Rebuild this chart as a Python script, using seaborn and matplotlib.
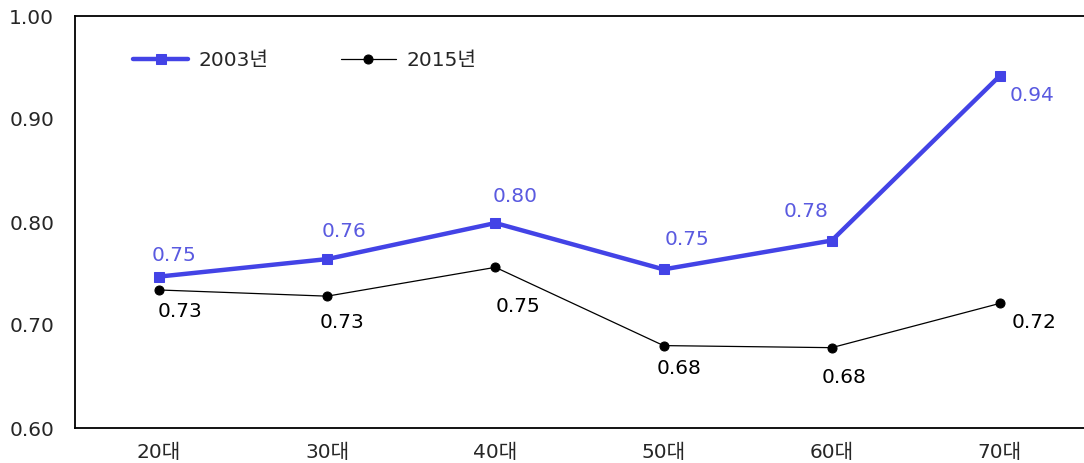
import numpy as np
import pandas as pd
import matplotlib
matplotlib.use("Agg")
import matplotlib.pyplot as plt
import seaborn as sns
from matplotlib.ticker import FixedLocator, FormatStrFormatter

ages = ["20대", "30대", "40대", "50대", "60대", "70대"]
val_2003 = [0.747, 0.764, 0.799, 0.754, 0.782, 0.942]
val_2015 = [0.734, 0.728, 0.756, 0.680, 0.678, 0.721]
lab_2003 = ["0.75", "0.76", "0.80", "0.75", "0.78", "0.94"]
lab_2015 = ["0.73", "0.73", "0.75", "0.68", "0.68", "0.72"]

sns.set_theme(style="white")
plt.rcParams["font.family"] = ["DejaVu Sans", "Noto Sans CJK KR"]
plt.rcParams["axes.unicode_minus"] = False

blue = "#4343E6"
blue_txt = "#5A5AE0"
fs = 14.5

df = pd.DataFrame({"x": np.arange(len(ages)), "y2003": val_2003, "y2015": val_2015})

fig = plt.figure(figsize=(10.84, 4.63), dpi=100)
ax = fig.add_axes([75 / 1084, 35 / 463, 1 - 75 / 1084, (428 - 16) / 463])

sns.lineplot(data=df, x="x", y="y2003", ax=ax, color=blue, linewidth=3.2,
             marker="s", markersize=7, markeredgecolor=blue, label="2003년")
sns.lineplot(data=df, x="x", y="y2015", ax=ax, color="black", linewidth=0.9,
             marker="o", markersize=6.5, markeredgecolor="black", label="2015년")

# 라벨 위치 (픽셀 오프셋)
off_2003 = [(15, 21), (17, 28), (20, 27), (23, 30), (-26, 29), (32, -20)]
off_2015 = [(21, -22), (15, -26), (23, -39), (15, -23), (12, -30), (34, -19)]
for i in range(len(ages)):
    ax.annotate(lab_2003[i], (df["x"][i], val_2003[i]), xytext=off_2003[i],
                textcoords="offset pixels", ha="center", va="center",
                fontsize=fs, color=blue_txt)
    ax.annotate(lab_2015[i], (df["x"][i], val_2015[i]), xytext=off_2015[i],
                textcoords="offset pixels", ha="center", va="center",
                fontsize=fs, color="black")

ax.set_xlim(-0.5, 5.5)
ax.set_ylim(0.6, 1.0)
ax.set_yticks([0.6, 0.7, 0.8, 0.9, 1.0])
ax.yaxis.set_major_formatter(FormatStrFormatter("%.2f"))
ax.xaxis.set_major_locator(FixedLocator(np.arange(-0.5, 5.0, 1.0)))
ax.xaxis.set_minor_locator(FixedLocator(np.arange(len(ages))))
ax.set_xticklabels([], minor=False)
ax.set_xticklabels(ages, minor=True)
ax.tick_params(axis="x", which="major", direction="out", length=5, width=1, color="black")
ax.tick_params(axis="x", which="minor", length=0, pad=11, labelsize=fs)
ax.tick_params(axis="y", direction="out", length=4, width=1, color="black", labelsize=fs, pad=11)
ax.set_xlabel("")
ax.set_ylabel("")

for s in ["left", "bottom", "top"]:
    ax.spines[s].set_color("black")
    ax.spines[s].set_linewidth(1.3)
ax.spines["right"].set_visible(False)

ax.legend(loc="upper left", bbox_to_anchor=(0.04, 0.96), ncol=2, frameon=False,
          fontsize=fs, handlelength=2.7, columnspacing=3.6, handletextpad=0.55)

plt.savefig("out.png", dpi=100)
